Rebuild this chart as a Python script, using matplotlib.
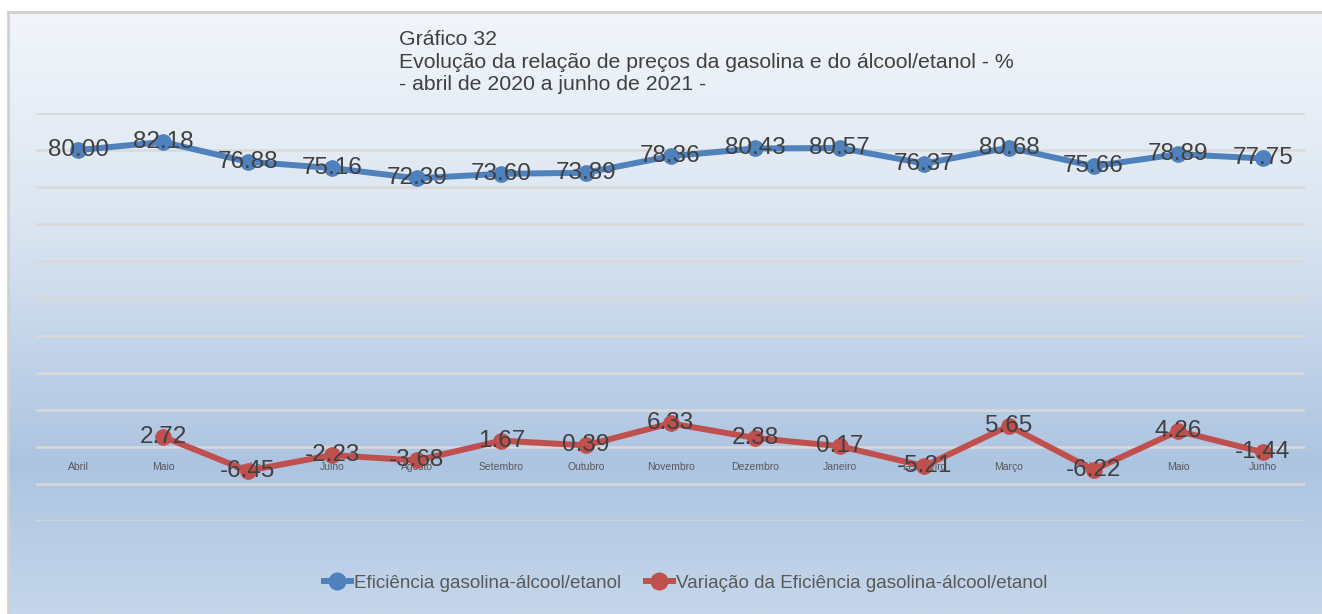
import matplotlib
matplotlib.use("Agg")
import matplotlib.pyplot as plt
import numpy as np
from matplotlib.colors import LinearSegmentedColormap
from matplotlib.lines import Line2D

plt.rcParams['font.family'] = ['Liberation Sans', 'DejaVu Sans']

# dados
meses = ['Abril', 'Maio', 'Junho', 'Julho', 'Agosto', 'Setembro', 'Outubro',
         'Novembro', 'Dezembro', 'Janeiro', 'Fevereiro', 'Março', 'Abril',
         'Maio', 'Junho']
eficiencia = [80.00, 82.18, 76.88, 75.16, 72.39, 73.60, 73.89, 78.36, 80.43,
              80.57, 76.37, 80.68, 75.66, 78.89, 77.75]
variacao = [np.nan, 2.72, -6.45, -2.23, -3.68, 1.67, 0.39, 6.33, 2.38, 0.17,
            -5.21, 5.65, -6.22, 4.26, -1.44]

azul = '#4f81bd'
vermelho = '#c0504d'
texto = '#404040'

W, H = 1322, 614
fig = plt.figure(figsize=(W / 100, H / 100), dpi=100)

# fundo em degradê com moldura
bg = fig.add_axes([8 / W, 0, 1 - 8 / W, 1 - 12 / H], zorder=-5)
cmap = LinearSegmentedColormap.from_list(
    'fundo', [(0.0, '#f2f6fb'), (0.35, '#dbe5f1'), (0.75, '#adc4e1'), (1.0, '#c5d6ea')])
grad = np.linspace(0, 1, 256).reshape(-1, 1)
bg.imshow(grad, aspect='auto', cmap=cmap, extent=[0, 1, 0, 1], origin='upper')
bg.set_xlim(0, 1)
bg.set_ylim(0, 1)
bg.set_xticks([])
bg.set_yticks([])
for s in ['right', 'bottom']:
    bg.spines[s].set_visible(False)
for s in ['left', 'top']:
    bg.spines[s].set_color('#d0d0d0')
    bg.spines[s].set_linewidth(2)

ax = fig.add_axes([36 / W, 1 - 521 / H, (1305 - 36) / W, (521 - 113) / H])
ax.patch.set_alpha(0)
x = np.arange(len(meses))

ax.set_xlim(-0.5, len(meses) - 0.5)
ax.set_ylim(-20, 90)
ax.set_yticks(np.arange(-20, 91, 10))
ax.yaxis.grid(True, color='#d9d9d9', linewidth=1.8)
ax.set_axisbelow(True)
ax.tick_params(axis='y', length=0, labelleft=False)
for s in ax.spines.values():
    s.set_visible(False)

ax.spines['bottom'].set_position(('data', 0))
ax.set_xticks(x)
ax.set_xticklabels(meses, fontsize=7.5, color='#595959')
ax.tick_params(axis='x', length=0, pad=11)

ax.plot(x, eficiencia, color=azul, lw=4.3, marker='o', ms=11, zorder=3)
ax.plot(x, variacao, color=vermelho, lw=4.3, marker='o', ms=11, zorder=3)

for xi, v in zip(x, eficiencia):
    ax.text(xi, v, f'{v:.2f}', ha='center', va='center', fontsize=17.5,
            color=texto, zorder=4)
for xi, v in zip(x, variacao):
    if np.isnan(v):
        continue
    ax.text(xi, v, f'{v:.2f}', ha='center', va='center', fontsize=17.5,
            color=texto, zorder=4)

fig.text(399 / W, 1 - 30 / H,
         'Gráfico 32\n'
         'Evolução da relação de preços da gasolina e do álcool/etanol - %\n'
         '- abril de 2020 a junho de 2021 -',
         ha='left', va='top', fontsize=15.3, color=texto, linespacing=1.25)

handles = [Line2D([], [], color=azul, lw=4.3, marker='o', ms=12),
           Line2D([], [], color=vermelho, lw=4.3, marker='o', ms=12)]
fig.legend(handles, ['Eficiência gasolina-álcool/etanol',
                     'Variação da Eficiência gasolina-álcool/etanol'],
           loc='center', bbox_to_anchor=(686 / W, 1 - 583 / H), ncol=2,
           frameon=False, fontsize=13.6, labelcolor='#595959',
           handlelength=1.4, handletextpad=0.2, columnspacing=1.3)

fig.savefig('out.png', dpi=100)
